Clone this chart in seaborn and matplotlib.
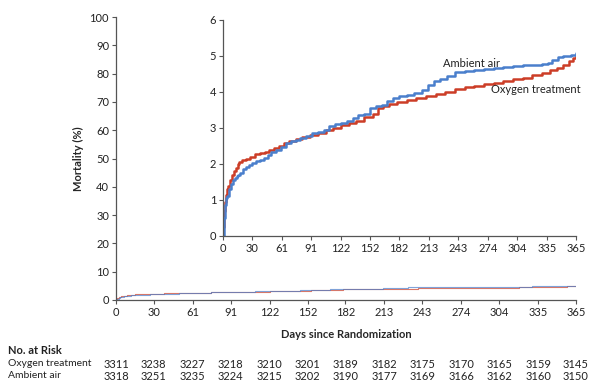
import pandas as pd
import seaborn as sns
import matplotlib.pyplot as plt
import matplotlib.transforms as mtransforms

# Cumulative mortality (%), step points
oxygen_days = [0, 1, 2, 3, 4, 5, 7, 9, 11, 13, 15, 17, 20, 24, 28, 33, 38, 43, 48, 53,
               58, 63, 68, 75, 82, 90, 98, 106, 114, 122, 130, 138, 146, 155, 160, 165,
               172, 180, 190, 200, 210, 220, 230, 240, 250, 260, 270, 280, 290, 300,
               310, 320, 330, 338, 345, 352, 358, 362, 365]
oxygen_mort = [0.25, 0.7, 0.95, 1.15, 1.3, 1.4, 1.55, 1.7, 1.8, 1.9, 2.0, 2.05, 2.12, 2.15,
               2.2, 2.28, 2.3, 2.33, 2.4, 2.45, 2.5, 2.57, 2.63, 2.7, 2.75, 2.8, 2.87,
               2.95, 3.0, 3.08, 3.15, 3.2, 3.3, 3.38, 3.55, 3.62, 3.68, 3.72, 3.78, 3.83,
               3.88, 3.95, 4.0, 4.08, 4.13, 4.18, 4.22, 4.26, 4.3, 4.35, 4.4, 4.46, 4.52,
               4.62, 4.68, 4.75, 4.85, 4.95, 5.03]

ambient_days = [0, 1, 2, 3, 4, 6, 8, 10, 12, 14, 16, 18, 21, 24, 27, 30, 34, 38, 42, 46,
                50, 55, 60, 65, 70, 75, 80, 86, 92, 98, 104, 110, 116, 122, 128, 134,
                140, 146, 152, 158, 164, 170, 176, 182, 190, 198, 206, 212, 218, 224,
                232, 240, 250, 260, 270, 280, 290, 300, 310, 320, 330, 336, 340, 346,
                352, 360, 365]
ambient_mort = [0, 0.5, 0.85, 1.05, 1.12, 1.3, 1.45, 1.55, 1.62, 1.68, 1.7, 1.75, 1.85,
                1.92, 1.98, 2.02, 2.08, 2.12, 2.18, 2.25, 2.32, 2.4, 2.48, 2.57, 2.63,
                2.67, 2.72, 2.78, 2.85, 2.9, 2.95, 3.05, 3.1, 3.13, 3.2, 3.28, 3.35, 3.4,
                3.55, 3.62, 3.65, 3.75, 3.82, 3.88, 3.92, 3.97, 4.05, 4.2, 4.3, 4.35,
                4.45, 4.55, 4.58, 4.62, 4.65, 4.68, 4.7, 4.72, 4.74, 4.76, 4.78, 4.8,
                4.9, 4.97, 5.0, 5.02, 5.07]

x_ticks = [0, 30, 61, 91, 122, 152, 182, 213, 243, 274, 304, 335, 365]
risk_oxygen = [3311, 3238, 3227, 3218, 3210, 3201, 3189, 3182, 3175, 3170, 3165, 3159, 3145]
risk_ambient = [3318, 3251, 3235, 3224, 3215, 3202, 3190, 3177, 3169, 3166, 3162, 3160, 3150]

groups = ["Oxygen treatment", "Ambient air"]
colors = {"Oxygen treatment": "#cc3d27", "Ambient air": "#4a7fcc"}

df = pd.concat([
    pd.DataFrame({"day": oxygen_days, "mort": oxygen_mort, "group": groups[0]}),
    pd.DataFrame({"day": ambient_days, "mort": ambient_mort, "group": groups[1]}),
])

sns.set_style("ticks")
plt.rcParams["font.family"] = ["Lato", "DejaVu Sans"]
axis_col = "#555555"
fs = 8

fig = plt.figure(figsize=(6, 3.92), dpi=100)
ax = fig.add_axes([0.1933, 0.2347, 0.7667, 0.7219])
ins = fig.add_axes([0.3717, 0.398, 0.5883, 0.551])


def style_axes(a):
    sns.despine(ax=a)
    for s in ["left", "bottom"]:
        a.spines[s].set_color(axis_col)
        a.spines[s].set_linewidth(0.9)
    a.tick_params(length=3, width=0.8, color=axis_col, labelsize=fs,
                  labelcolor="#222222", pad=2)


# main panel
sns.lineplot(data=df, x="day", y="mort", hue="group", palette=colors, ax=ax,
             drawstyle="steps-post", estimator=None, legend=False, linewidth=0.8,
             alpha=0.7)
ax.set_xlim(0, 365)
ax.set_ylim(0, 100)
ax.set_xticks(x_ticks)
ax.set_yticks(range(0, 101, 10))
ax.set_xlabel("Days since Randomization", fontsize=fs, fontweight="bold", labelpad=8)
ax.set_ylabel("Mortality (%)", fontsize=fs, fontweight="bold", labelpad=4)
style_axes(ax)

# inset
sns.lineplot(data=df, x="day", y="mort", hue="group", palette=colors, ax=ins,
             drawstyle="steps-post", estimator=None, legend=False, linewidth=1.8)
ins.set_xlim(0, 365)
ins.set_ylim(0, 6)
ins.set_xticks(x_ticks)
ins.set_yticks(range(0, 7))
ins.set_xlabel("")
ins.set_ylabel("")
ins.patch.set_alpha(0)
style_axes(ins)
ins.text(227, 4.78, "Ambient air", fontsize=fs, color="#222222", va="center")
ins.text(277, 4.08, "Oxygen treatment", fontsize=fs, color="#222222", va="center")

# number at risk table
trans = mtransforms.blended_transform_factory(ax.transData, fig.transFigure)
fig.text(8 / 600, 1 - 351 / 392, "No. at Risk", fontsize=fs, fontweight="bold",
         va="center", color="#222222")
fig.text(8 / 600, 1 - 364 / 392, groups[0], fontsize=7.5, va="center", color="#222222")
fig.text(8 / 600, 1 - 376 / 392, groups[1], fontsize=7.5, va="center", color="#222222")
for d, n1, n2 in zip(x_ticks, risk_oxygen, risk_ambient):
    ax.text(d, 1 - 364 / 392, str(n1), transform=trans, fontsize=fs, ha="center",
            va="center", color="#222222")
    ax.text(d, 1 - 376 / 392, str(n2), transform=trans, fontsize=fs, ha="center",
            va="center", color="#222222")

fig.savefig("out.png", dpi=100)
